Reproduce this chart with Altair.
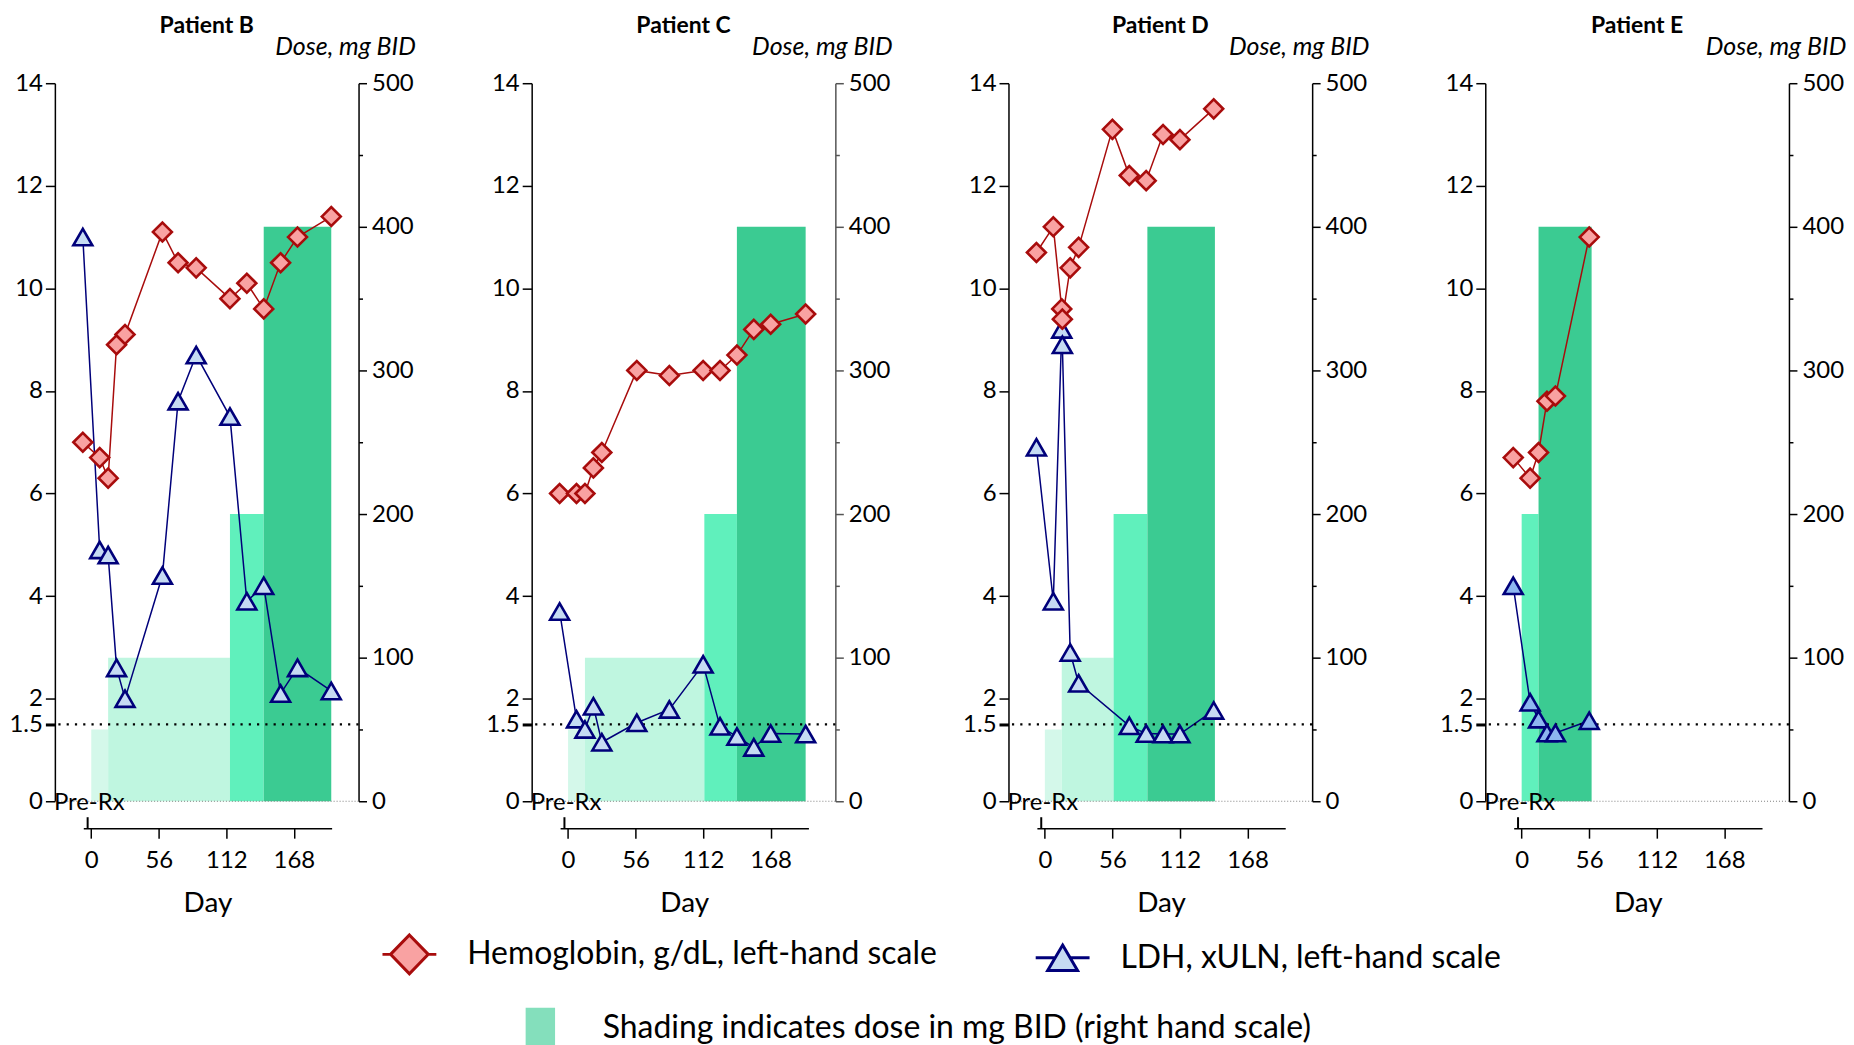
import altair as alt
import pandas as pd

FONT = "Lato"

# ---------------- categories / labels ----------------
PATIENTS = ["Patient B", "Patient C", "Patient D", "Patient E"]
SERIES = ["Hemoglobin, g/dL, left-hand scale", "LDH, xULN, left-hand scale"]
SHADING_LABEL = "Shading indicates dose in mg BID (right hand scale)"
DOSE_AXIS_TITLE = "Dose, mg BID"
X_TITLE = "Day"
PRE_RX_LABEL = "Pre-Rx"
PRE_RX_DAY = -3
LDH_REFERENCE = 1.5
X_TICKS = [0, 56, 112, 168]
Y_LEFT_TICKS = [0, 1.5, 2, 4, 6, 8, 10, 12, 14]
Y_RIGHT_TICKS = [0, 50, 100, 150, 200, 250, 300, 350, 400, 450, 500]
DOSE_LEVELS = [50, 100, 200, 400]

# ---------------- Patient B ----------------
B_HGB_DAY = [-7, 7, 14, 21, 28, 59, 72, 87, 115, 129, 143, 157, 171, 199]
B_HGB = [7.0, 6.7, 6.3, 8.9, 9.1, 11.1, 10.5, 10.4, 9.8, 10.1, 9.6, 10.5, 11.0, 11.4]
B_LDH_DAY = [-7, 7, 14, 21, 28, 59, 72, 87, 115, 129, 143, 157, 171, 199]
B_LDH = [11.0, 4.9, 4.8, 2.6, 2.0, 4.4, 7.8, 8.7, 7.5, 3.9, 4.2, 2.1, 2.6, 2.15]
B_DOSE_START = [0, 14, 115, 143]
B_DOSE_END = [14, 115, 143, 199]
B_DOSE = [50, 100, 200, 400]

# ---------------- Patient C ----------------
C_HGB_DAY = [-7, 7, 14, 21, 28, 57, 84, 112, 126, 140, 154, 168, 197]
C_HGB = [6.0, 6.0, 6.0, 6.5, 6.8, 8.4, 8.3, 8.4, 8.4, 8.7, 9.2, 9.3, 9.5]
C_LDH_DAY = [-7, 7, 14, 21, 28, 57, 84, 112, 126, 140, 154, 168, 197]
C_LDH = [3.7, 1.6, 1.4, 1.85, 1.15, 1.53, 1.79, 2.67, 1.46, 1.26, 1.05, 1.32, 1.31]
C_DOSE_START = [0, 14, 113, 140]
C_DOSE_END = [14, 113, 140, 197]
C_DOSE = [50, 100, 200, 400]

# ---------------- Patient D ----------------
D_HGB_DAY = [-7, 7, 14, 14.5, 21, 28, 56, 70, 84, 98, 112, 140]
D_HGB = [10.7, 11.2, 9.6, 9.4, 10.4, 10.8, 13.1, 12.2, 12.1, 13.0, 12.9, 13.5]
D_LDH_DAY = [-7, 7, 14, 14.5, 21, 28, 70, 84, 98, 112, 140]
D_LDH = [6.9, 3.9, 9.2, 8.9, 2.9, 2.3, 1.47, 1.32, 1.31, 1.31, 1.77]
D_DOSE_START = [0, 14, 57, 85]
D_DOSE_END = [14, 57, 85, 141]
D_DOSE = [50, 100, 200, 400]

# ---------------- Patient E ----------------
E_HGB_DAY = [-7, 7, 14, 21, 28, 56]
E_HGB = [6.7, 6.3, 6.8, 7.8, 7.9, 11.0]
E_LDH_DAY = [-7, 7, 14, 21, 28, 56]
E_LDH = [4.2, 1.93, 1.6, 1.33, 1.33, 1.57]
E_DOSE_START = [0, 14]
E_DOSE_END = [14, 58]
E_DOSE = [200, 400]

# ---------------- styles ----------------
HGB_FILL = "#F9A2A2"
HGB_STROKE = "#A80C0C"
LDH_FILL = "#C6DBF3"
LDH_FILL_E = "#8DB6F0"
LDH_STROKE = "#00007A"
DOSE_COLORS = ["#D4F8EA", "#BFF6E0", "#60F0BC", "#3BCB92"]
SWATCH = "#84DFBC"

LEG_DIAMOND = "M-1,0L-0.7,0M0.7,0L1,0M0,-0.72L0.7,0L0,0.72L-0.7,0Z"
LEG_TRIANGLE = "M-1,0L-0.28,0M0.28,0L1,0M0,-0.47L0.555,0.47L-0.555,0.47Z"
LEG_RECT = "M-0.59,-0.8L0.59,-0.8L0.59,0.8L-0.59,0.8Z"

W, H = 304.5, 720
AX_OFF = 27
TICK_FONT = 24

xs = alt.Scale(domain=[-6.6, 199.3], range=[28.5, 277.5], nice=False, zero=False)
yl = alt.Scale(domain=[0, 14], nice=False, zero=False)
yr = alt.Scale(domain=[0, 500], nice=False, zero=False)

leg1 = alt.Legend(
    title=None, orient="none", legendX=327, legendY=845, direction="horizontal", columns=2,
    labelFontSize=32, labelColor="black", labelOffset=29.5, labelLimit=2000,
    symbolSize=2916, symbolStrokeWidth=3, columnPadding=92, padding=0,
)
leg2 = alt.Legend(
    title=None, orient="none", legendX=461.8, legendY=922,
    labelFontSize=32, labelColor="black", labelOffset=37.6, labelLimit=2000,
    symbolType=LEG_RECT, symbolFillColor=SWATCH, symbolStrokeWidth=0, padding=0,
)

x_axis = alt.Axis(
    values=X_TICKS, format="d", title=X_TITLE, offset=AX_OFF, grid=False, orient="bottom",
    domainColor="black", domainWidth=1.5, tickColor="black", tickWidth=1.5, tickSize=10,
    labelFontSize=TICK_FONT, labelPadding=10, labelFlush=False, labelOverlap=False,
    titleFontSize=28, titleFontWeight="normal", titlePadding=18,
)
left_axis = alt.Axis(
    values=Y_LEFT_TICKS, format=".1~f", title=None, grid=False, orient="left",
    domainColor="black", domainWidth=1.5, tickColor="black", tickSize=9.5,
    tickWidth={"condition": {"test": "datum.value == 1.5", "value": 3}, "value": 1.5},
    labelFontSize=TICK_FONT, labelPadding=3, labelOverlap=False,
)


def right_axis(color):
    return alt.Axis(
        values=Y_RIGHT_TICKS, format="d", orient="right", grid=False,
        labelExpr="datum.value % 100 == 0 ? datum.label : ''",
        domainColor=color, domainWidth=1.5, tickColor=color, tickWidth=1.5,
        tickSize={"condition": {"test": "datum.value % 100 != 0", "value": 4}, "value": 8},
        labelFontSize=TICK_FONT, labelPadding=5, labelOverlap=False,
        title=DOSE_AXIS_TITLE, titleAngle=0, titleAlign="right", titleBaseline="middle",
        titleX=57, titleY=-37, titleFontStyle="italic", titleFontWeight="normal", titleFontSize=25,
    )


def make_panel(name, hgb_day, hgb, ldh_day, ldh, ds, de, dd, ldh_fill, right_color, with_legends):
    pts = pd.DataFrame({
        "day": list(ldh_day) + list(hgb_day),
        "value": list(ldh) + list(hgb),
        "series": [SERIES[1]] * len(ldh) + [SERIES[0]] * len(hgb),
    })
    dose = pd.DataFrame({"start": ds, "end": de, "dose": dd})
    one = pd.DataFrame({"label": [PRE_RX_LABEL], "zero": [0], "ref": [LDH_REFERENCE], "pre": [PRE_RX_DAY]})

    X = lambda f: alt.X(f, scale=xs, axis=x_axis)
    YL = lambda f: alt.Y(f, scale=yl, axis=left_axis)

    bars = alt.Chart(dose).mark_rect().encode(
        x=X("start:Q"),
        x2="end:Q",
        y=alt.Y("dose:Q", scale=yr, axis=right_axis(right_color)),
        y2=alt.datum(0),
        color=alt.Color("dose:O", scale=alt.Scale(domain=DOSE_LEVELS, range=DOSE_COLORS), legend=None),
    )

    line_ldh = alt.Chart(pts).transform_filter(alt.datum.series == SERIES[1]).mark_line(
        color=LDH_STROKE, strokeWidth=1.5
    ).encode(x=X("day:Q"), y=YL("value:Q"))
    line_hgb = alt.Chart(pts).transform_filter(alt.datum.series == SERIES[0]).mark_line(
        color=HGB_STROKE, strokeWidth=1.5
    ).encode(x=X("day:Q"), y=YL("value:Q"))
    zero_line = alt.Chart(one).mark_rule(color="#808080", strokeWidth=1, strokeDash=[1, 2]).encode(
        y=YL("zero:Q")
    )
    ref_line = alt.Chart(one).mark_rule(color="black", strokeWidth=2.2, strokeDash=[2.2, 6.1]).encode(
        y=YL("ref:Q")
    )
    is_hgb = alt.datum.series == SERIES[0]
    points = alt.Chart(pts).mark_point(filled=True, size=360, strokeWidth=2.6, opacity=1).encode(
        x=X("day:Q"),
        y=YL("value:Q"),
        shape=alt.condition(is_hgb, alt.value("diamond"), alt.value("triangle-up")),
        fill=alt.condition(is_hgb, alt.value(HGB_FILL), alt.value(ldh_fill)),
        stroke=alt.condition(is_hgb, alt.value(HGB_STROKE), alt.value(LDH_STROKE)),
    )
    pre_text = alt.Chart(one).mark_text(
        align="left", baseline="middle", fontSize=TICK_FONT, dx=-1, dy=2, color="black"
    ).encode(x=alt.value(0), y=YL("zero:Q"), text="label:N")
    pre_tick = alt.Chart(one).mark_rule(color="black", strokeWidth=2).encode(
        x=X("pre:Q"),
        y=alt.value(H + AX_OFF - 11),
        y2=alt.value(H + AX_OFF),
    )

    inner = alt.layer(line_ldh, line_hgb, zero_line, ref_line, points, pre_text, pre_tick)
    layers = [bars, inner]
    if with_legends:
        series_legend = alt.Chart(alt.InlineData(values=[])).mark_point(
            filled=True, opacity=1, strokeWidth=3
        ).encode(
            shape=alt.Shape("series:N", scale=alt.Scale(domain=SERIES, range=[LEG_DIAMOND, LEG_TRIANGLE]), legend=leg1),
            fill=alt.Fill("series:N", scale=alt.Scale(domain=SERIES, range=[HGB_FILL, LDH_FILL]), legend=leg1),
            stroke=alt.Stroke("series:N", scale=alt.Scale(domain=SERIES, range=[HGB_STROKE, LDH_STROKE]), legend=leg1),
        )
        shade_legend = alt.Chart(alt.InlineData(values=[])).mark_point(
            filled=True, opacity=1, shape=LEG_RECT, color=SWATCH
        ).encode(
            size=alt.Size("shade:O", scale=alt.Scale(domain=[SHADING_LABEL], range=[2500, 2500]), legend=leg2),
        )
        layers += [series_legend, shade_legend]

    return alt.layer(*layers).resolve_scale(y="independent").properties(
        width=W, height=H,
        title=alt.Title(name, fontSize=23, fontWeight="bold", anchor="middle", frame="group", offset=-4),
    )


panels = [
    make_panel(PATIENTS[0], B_HGB_DAY, B_HGB, B_LDH_DAY, B_LDH, B_DOSE_START, B_DOSE_END, B_DOSE, LDH_FILL, "black", True),
    make_panel(PATIENTS[1], C_HGB_DAY, C_HGB, C_LDH_DAY, C_LDH, C_DOSE_START, C_DOSE_END, C_DOSE, LDH_FILL, "#555555", False),
    make_panel(PATIENTS[2], D_HGB_DAY, D_HGB, D_LDH_DAY, D_LDH, D_DOSE_START, D_DOSE_END, D_DOSE, LDH_FILL, "black", False),
    make_panel(PATIENTS[3], E_HGB_DAY, E_HGB, E_LDH_DAY, E_LDH, E_DOSE_START, E_DOSE_END, E_DOSE, LDH_FILL_E, "black", False),
]

chart = alt.hconcat(*panels, spacing=173.1, bounds="flush").properties(
    padding={"left": 0, "top": 6, "right": 0, "bottom": 0}
).configure(font=FONT).configure_view(stroke=None).configure_axis(
    labelFont=FONT, titleFont=FONT, labelColor="black", titleColor="black"
).configure_legend(labelFont=FONT, labelColor="black").configure_title(font=FONT, color="black")

chart.save("out.html", embed_options={"renderer": "svg", "actions": False})
